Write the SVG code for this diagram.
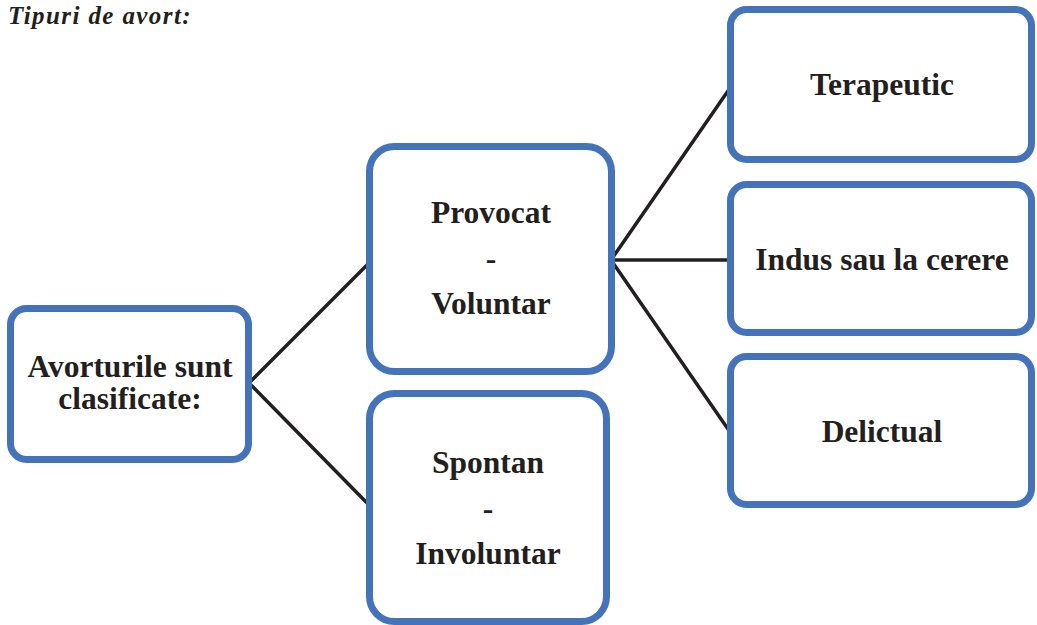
<svg xmlns="http://www.w3.org/2000/svg" width="1037" height="625" viewBox="0 0 1037 625">
<style>
.box{fill:#ffffff;stroke:#4473b9;stroke-width:7}
.t{font-family:"Liberation Serif","Times New Roman",Times,serif;font-weight:bold;font-size:31.5px;fill:#231f20;text-anchor:middle}
.c{stroke:#231f20;stroke-width:3.5;fill:none}
</style>
<rect width="1037" height="625" fill="#ffffff"/>
<text x="8" y="24" font-family="Liberation Serif, Times New Roman, Times, serif" font-weight="bold" font-style="italic" font-size="25" letter-spacing="1.4" fill="#231f20">Tipuri de avort:</text>
<g id="connectors">
<polyline class="c" points="369,263 249,383 369,505"/>
<polyline class="c" points="730,88 611,260 730,432"/>
<line class="c" x1="611" y1="260" x2="730" y2="260"/>
</g>
<g id="n-root">
<rect class="box" x="10.5" y="308.5" width="238" height="151" rx="16"/>
<text class="t" x="130" y="377">Avorturile sunt</text>
<text class="t" x="130" y="409">clasificate:</text>
</g>
<g id="n-provocat">
<rect class="box" x="369.5" y="146.5" width="242" height="225" rx="25"/>
<text class="t" x="491" y="223">Provocat</text>
<text class="t" x="491" y="269">-</text>
<text class="t" x="491" y="314">Voluntar</text>
</g>
<g id="n-spontan">
<rect class="box" x="369.5" y="393.5" width="237" height="228" rx="25"/>
<text class="t" x="488" y="473">Spontan</text>
<text class="t" x="488" y="519">-</text>
<text class="t" x="488" y="564">Involuntar</text>
</g>
<g id="n-terapeutic">
<rect class="box" x="730.5" y="9.5" width="301" height="150" rx="16"/>
<text class="t" x="882" y="95">Terapeutic</text>
</g>
<g id="n-indus">
<rect class="box" x="730.5" y="184.5" width="301" height="148" rx="16"/>
<text class="t" x="882" y="270">Indus sau la cerere</text>
</g>
<g id="n-delictual">
<rect class="box" x="730.5" y="356.5" width="301" height="148" rx="16"/>
<text class="t" x="882" y="442">Delictual</text>
</g>
</svg>
